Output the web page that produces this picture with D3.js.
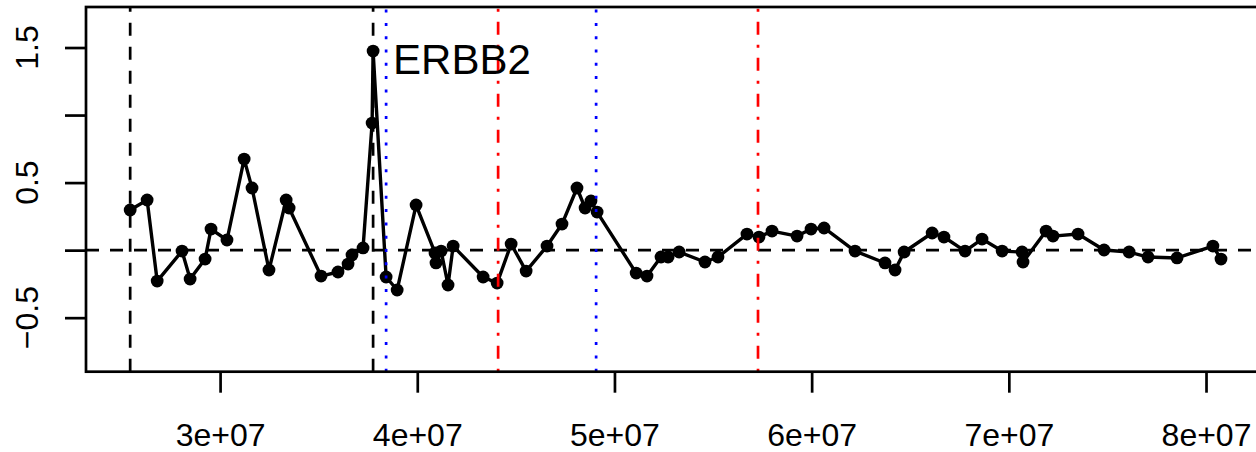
<!DOCTYPE html>
<html>
<head>
<meta charset="utf-8">
<script src="https://cdn.jsdelivr.net/npm/d3@7"></script>
<style>
  body { margin: 0; background: #fff; }
  svg text { font-family: "Liberation Sans", Arial, Helvetica, sans-serif; fill: #000; }
</style>
</head>
<body>
<div id="chart"></div>
<script>
// genomic position (bp) and copy number value for each probe
const positions = [
  25.44e6, 26.30e6, 26.81e6, 28.07e6, 28.48e6, 29.24e6, 29.54e6, 30.35e6, 31.22e6, 31.62e6,
  32.48e6, 33.35e6, 33.50e6, 35.12e6, 35.98e6, 36.49e6, 36.69e6, 37.25e6, 37.71e6, 37.76e6,
  38.42e6, 38.98e6, 39.94e6, 40.90e6, 40.95e6, 41.21e6, 41.56e6, 41.82e6, 43.34e6, 44.05e6,
  44.76e6, 45.52e6, 46.58e6, 47.34e6, 48.10e6, 48.51e6, 48.81e6, 49.12e6, 51.10e6, 51.65e6,
  52.36e6, 52.72e6, 53.28e6, 54.59e6, 55.25e6, 56.72e6, 57.33e6, 57.99e6, 59.26e6, 59.97e6,
  60.63e6, 62.20e6, 63.72e6, 64.23e6, 64.69e6, 66.11e6, 66.71e6, 67.78e6, 68.64e6, 69.66e6,
  70.67e6, 70.72e6, 71.89e6, 72.24e6, 73.51e6, 74.83e6, 76.10e6, 77.06e6, 78.53e6, 80.35e6,
  80.76e6
];
const values = [
  0.297, 0.371, -0.229, -0.007, -0.214, -0.066, 0.156, 0.075, 0.674, 0.460,
  -0.147, 0.371, 0.312, -0.192, -0.162, -0.103, -0.036, 0.016, 0.941, 1.474,
  -0.199, -0.295, 0.334, -0.021, -0.095, -0.007, -0.258, 0.030, -0.199, -0.244,
  0.045, -0.155, 0.030, 0.193, 0.460, 0.312, 0.364, 0.282, -0.170, -0.192,
  -0.051, -0.051, -0.014, -0.088, -0.051, 0.119, 0.097, 0.141, 0.104, 0.156,
  0.164, -0.007, -0.095, -0.147, -0.014, 0.127, 0.097, -0.007, 0.082, -0.007,
  -0.014, -0.088, 0.141, 0.104, 0.119, 0.001, -0.014, -0.051, -0.058, 0.030,
  -0.066
];

const blackLines = [25.44e6, 37.76e6];
const blueLines = [38.42e6, 49.07e6];
const redLines = [44.10e6, 57.28e6];

const xTicks = [3e7, 4e7, 5e7, 6e7, 7e7, 8e7];
const yTicks = [-0.5, 0, 0.5, 1, 1.5];
const yLabelled = [-0.5, 0.5, 1.5];

const geneLabel = { name: "ERBB2", index: 19 };

const width = 1256, height = 452;
const plotLeft = 86, plotTop = 7, plotRight = 1263.4, plotBottom = 371.7;

const svg = d3.select("#chart").append("svg")
    .attr("width", width)
    .attr("height", height);

const x = d3.scaleLinear().domain([23.2e6, 82.91e6]).range([plotLeft, plotRight]);
const y = d3.scaleLinear().domain([-0.9, 1.8]).range([plotBottom, plotTop]);

svg.append("clipPath").attr("id", "plotclip")
  .append("rect")
    .attr("x", plotLeft).attr("y", plotTop)
    .attr("width", plotRight - plotLeft).attr("height", plotBottom - plotTop);

const data = positions.map((p, i) => ({ pos: p, val: values[i] }));

const plot = svg.append("g").attr("clip-path", "url(#plotclip)");

// series line + points
plot.append("path")
    .datum(data)
    .attr("fill", "none")
    .attr("stroke", "#000")
    .attr("stroke-width", 3.4)
    .attr("stroke-linejoin", "round")
    .attr("d", d3.line().x(d => x(d.pos)).y(d => y(d.val)));

plot.append("g")
  .selectAll("circle")
  .data(data)
  .enter().append("circle")
    .attr("cx", d => x(d.pos))
    .attr("cy", d => y(d.val))
    .attr("r", 6.4)
    .attr("fill", "#000");

// gene label
svg.append("text")
    .attr("x", x(positions[geneLabel.index]) + 20)
    .attr("y", 74)
    .attr("font-size", 42)
    .text(geneLabel.name);

// reference lines
plot.append("line")
    .attr("x1", plotLeft).attr("x2", plotRight)
    .attr("y1", y(0)).attr("y2", y(0))
    .attr("stroke", "#000")
    .attr("stroke-width", 2.7)
    .attr("stroke-dasharray", "13,11");

function vlines(list, color, dash, w) {
  plot.append("g")
    .selectAll("line")
    .data(list)
    .enter().append("line")
      .attr("x1", d => x(d)).attr("x2", d => x(d))
      .attr("y1", plotBottom).attr("y2", plotTop)
      .attr("stroke", color)
      .attr("stroke-width", w)
      .attr("stroke-dasharray", dash);
}
vlines(blackLines, "#000", "13,11", 2.7);
vlines(blueLines, "#0000ff", "3,10.3", 2.7);
vlines(redLines, "#ff0000", "3,10,13,10", 2.7);

// box
svg.append("rect")
    .attr("x", plotLeft).attr("y", plotTop)
    .attr("width", plotRight - plotLeft).attr("height", plotBottom - plotTop)
    .attr("fill", "none")
    .attr("stroke", "#000")
    .attr("stroke-width", 2.7);

// x axis
const xAxis = svg.append("g")
    .attr("transform", `translate(0,${plotBottom})`)
    .call(d3.axisBottom(x).tickValues(xTicks).tickSize(21).tickPadding(0)
      .tickFormat(d => (d / 1e7) + "e+07"));
xAxis.select(".domain").remove();
xAxis.selectAll(".tick line").attr("stroke-width", 2.7);
xAxis.selectAll(".tick text")
    .attr("font-size", 32)
    .attr("y", 74)
    .attr("dy", 0)
    .style("font-family", "'Liberation Sans', Arial, sans-serif");

// y axis
const yAxis = svg.append("g")
    .attr("transform", `translate(${plotLeft},0)`)
    .call(d3.axisLeft(y).tickValues(yTicks).tickSize(21).tickFormat(""));
yAxis.select(".domain").remove();
yAxis.selectAll(".tick line").attr("stroke-width", 2.7);

svg.append("g")
  .selectAll("text")
  .data(yLabelled)
  .enter().append("text")
    .attr("transform", d => `translate(38,${y(d)}) rotate(-90)`)
    .attr("text-anchor", "middle")
    .attr("font-size", 32)
    .text(d => d3.format(".1f")(d).replace("-", "\u2212"));
</script>
</body>
</html>
